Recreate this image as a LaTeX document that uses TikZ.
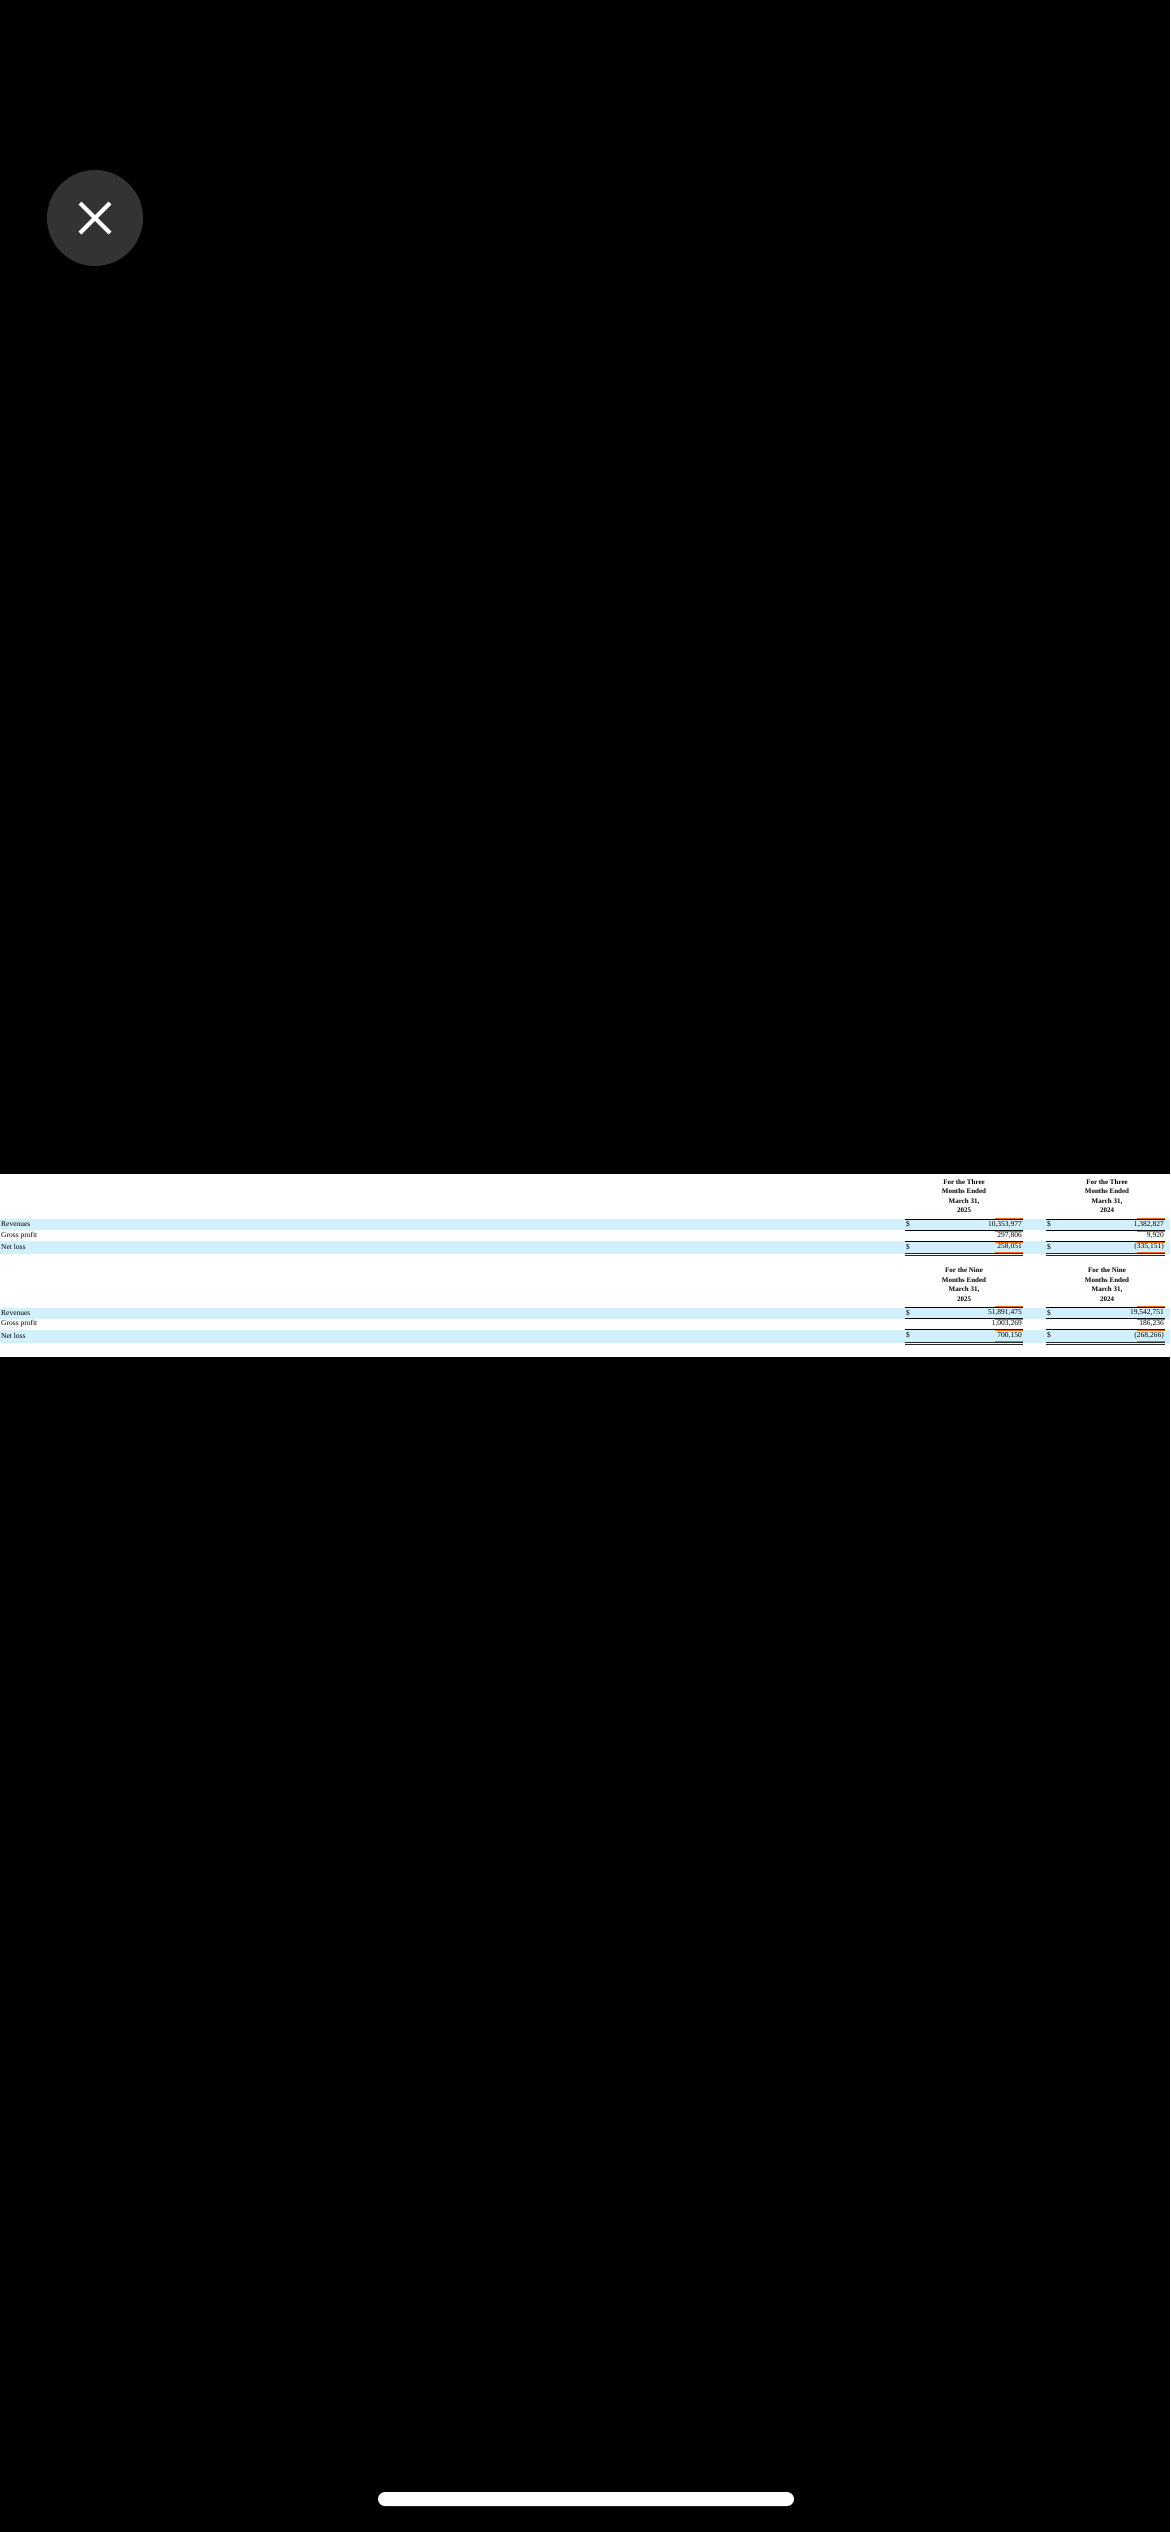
\documentclass[tikz,border=0pt]{standalone}
\usepackage{fontspec}
\setmainfont{Liberation Serif}
\begin{document}
\begin{tikzpicture}[x=1pt,y=-1pt,
  lbl/.style={anchor=west,inner sep=0pt,font=\fontsize{7.5}{8}\selectfont},
  num/.style={anchor=east,inner sep=0pt,font=\fontsize{7.5}{8}\selectfont},
  hdr/.style={align=center,inner sep=0pt,font=\fontsize{7}{9.6}\selectfont\bfseries},
  band/.style={fill=cyan!18,draw=none},
  bl/.style={line width=0.9pt,black},
  og/.style={line width=0.9pt,orange!80!red}]
\fill[black] (0,0) rectangle (1170,2532);
\fill[white] (0,1174) rectangle (1170,1357);
% close button
\fill[black!80] (95,218) circle (48);
\draw[white,line width=4pt] (80,203) -- (110,233) (110,203) -- (80,233);
\fill[white,rounded corners=7pt] (378,2492) rectangle (794,2506);
\foreach \o/\a/\b/\c/\d/\e/\f/\g in {{0}/{For the Three}/{10,353,977}/{297,806}/{258,051}/{1,382,827}/{9,920}/{(335,151)},
                                     {88.5}/{For the Nine}/{51,891,475}/{1,003,269}/{700,150}/{19,542,751}/{186,236}/{(268,266)}}{
  \begin{scope}[yshift=-\o pt]
  \fill[band] (0,1219) rectangle (1170,1230);
  \fill[band] (0,1241) rectangle (1170,1254);
  \node[hdr] (h1) at (964,1196) {\a\\Months Ended\\March 31,\\2025};
  \node[hdr] (h2) at (1107,1196) {\a\\Months Ended\\March 31,\\2024};
  \node[lbl] (r1) at (1,1224.5) {Revenues};
  \node[lbl] (r2) at (1,1235.5) {Gross profit};
  \node[lbl] (r3) at (1,1247) {Net loss};
  \foreach \L/\R/\x/\y/\z in {{905}/{1023}/{\b}/{\c}/{\d}, {1046}/{1165}/{\e}/{\f}/{\g}}{
    \draw[og] (\R-28,1218) -- (\R,1218);
    \draw[bl] (\L,1219.3) -- (\R,1219.3);
    \node[lbl] at (\L+1,1224.5) {\$};
    \node[num] at (\R-1,1224.5) {\x};
    \draw[bl] (\L,1230) -- (\R,1230);
    \draw[og] (\R-28,1231) -- (\R,1231);
    \node[num] at (\R-1,1235.5) {\y};
    \draw[bl] (\L,1241) -- (\R,1241);
    \draw[og] (\R-28,1242) -- (\R,1242);
    \node[lbl] at (\L+1,1247) {\$};
    \node[num] at (\R-1,1247) {\z};
    \draw[og] (\R-28,1252.5) -- (\R,1252.5);
    \draw[black!85,line width=0.9pt] (\L,1253.5) -- (\R,1253.5);
    \draw[black!85,line width=0.9pt] (\L,1255.8) -- (\R,1255.8);
  }
  \end{scope}
}
\end{tikzpicture}
\end{document}
